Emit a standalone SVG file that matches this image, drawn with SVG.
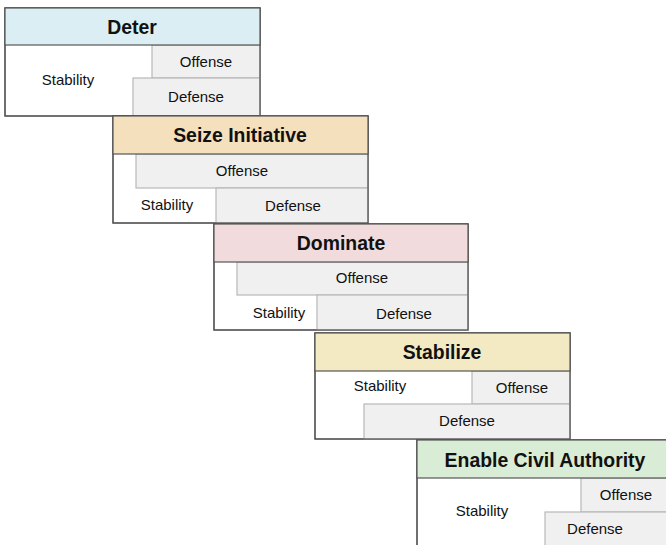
<svg xmlns="http://www.w3.org/2000/svg" width="666" height="545" viewBox="0 0 666 545">
<style>
.outer{fill:#ffffff;stroke:#555555;stroke-width:1.2}
.hdr{stroke:#555555;stroke-width:1.2}
.cell{fill:#f0f0f0;stroke:#b8b8b8;stroke-width:1.2}
.h{font-family:"Liberation Sans",Arial,sans-serif;font-size:19.4px;font-weight:bold;fill:#111;text-anchor:middle;dominant-baseline:central}
.t{font-family:"Liberation Sans",Arial,sans-serif;font-size:15px;fill:#111;text-anchor:middle;dominant-baseline:central}
</style>
<rect width="666" height="545" fill="#ffffff"/>
<g id="deter">
<rect class="outer" x="5" y="8" width="255" height="108"/>
<rect class="cell" x="152" y="45" width="108" height="33"/>
<rect class="cell" x="133" y="78" width="127" height="38"/>
<rect class="outer" x="5" y="8" width="255" height="108" style="fill:none"/>
<rect class="hdr" x="5" y="8" width="255" height="37" fill="#dbeef3"/>
<text class="h" x="132" y="26.5">Deter</text>
<text class="t" x="68" y="79">Stability</text>
<text class="t" x="206" y="61">Offense</text>
<text class="t" x="196" y="96">Defense</text>
</g>
<g id="seize">
<rect class="outer" x="113" y="116" width="255" height="107"/>
<rect class="cell" x="136" y="154" width="232" height="34"/>
<rect class="cell" x="216" y="188" width="152" height="35"/>
<rect class="outer" x="113" y="116" width="255" height="107" style="fill:none"/>
<rect class="hdr" x="113" y="116" width="255" height="38" fill="#f5e0bd"/>
<text class="h" x="240" y="134.5">Seize Initiative</text>
<text class="t" x="242" y="170">Offense</text>
<text class="t" x="167" y="204">Stability</text>
<text class="t" x="293" y="205">Defense</text>
</g>
<g id="dominate">
<rect class="outer" x="214" y="224" width="254" height="106"/>
<rect class="cell" x="237" y="262" width="231" height="33"/>
<rect class="cell" x="317" y="295" width="151" height="35"/>
<rect class="outer" x="214" y="224" width="254" height="106" style="fill:none"/>
<rect class="hdr" x="214" y="224" width="254" height="38" fill="#f2dbdc"/>
<text class="h" x="341" y="242.5">Dominate</text>
<text class="t" x="362" y="277">Offense</text>
<text class="t" x="279" y="312">Stability</text>
<text class="t" x="404" y="313">Defense</text>
</g>
<g id="stabilize">
<rect class="outer" x="315" y="333" width="255" height="106"/>
<rect class="cell" x="472" y="371" width="98" height="33"/>
<rect class="cell" x="364" y="404" width="206" height="35"/>
<rect class="outer" x="315" y="333" width="255" height="106" style="fill:none"/>
<rect class="hdr" x="315" y="333" width="255" height="38" fill="#f3eac4"/>
<text class="h" x="442" y="351.5">Stabilize</text>
<text class="t" x="380" y="385">Stability</text>
<text class="t" x="522" y="387">Offense</text>
<text class="t" x="467" y="420">Defense</text>
</g>
<g id="enable">
<rect class="outer" x="417" y="440" width="255" height="110"/>
<rect class="cell" x="581" y="478" width="91" height="34"/>
<rect class="cell" x="545" y="512" width="127" height="40"/>
<rect class="outer" x="417" y="440" width="255" height="110" style="fill:none"/>
<rect class="hdr" x="417" y="440" width="255" height="38" fill="#d9ecd6"/>
<text class="h" x="545" y="459.5">Enable Civil Authority</text>
<text class="t" x="626" y="494">Offense</text>
<text class="t" x="482" y="510">Stability</text>
<text class="t" x="595" y="528">Defense</text>
</g>
<g id="connectors"></g>
</svg>
